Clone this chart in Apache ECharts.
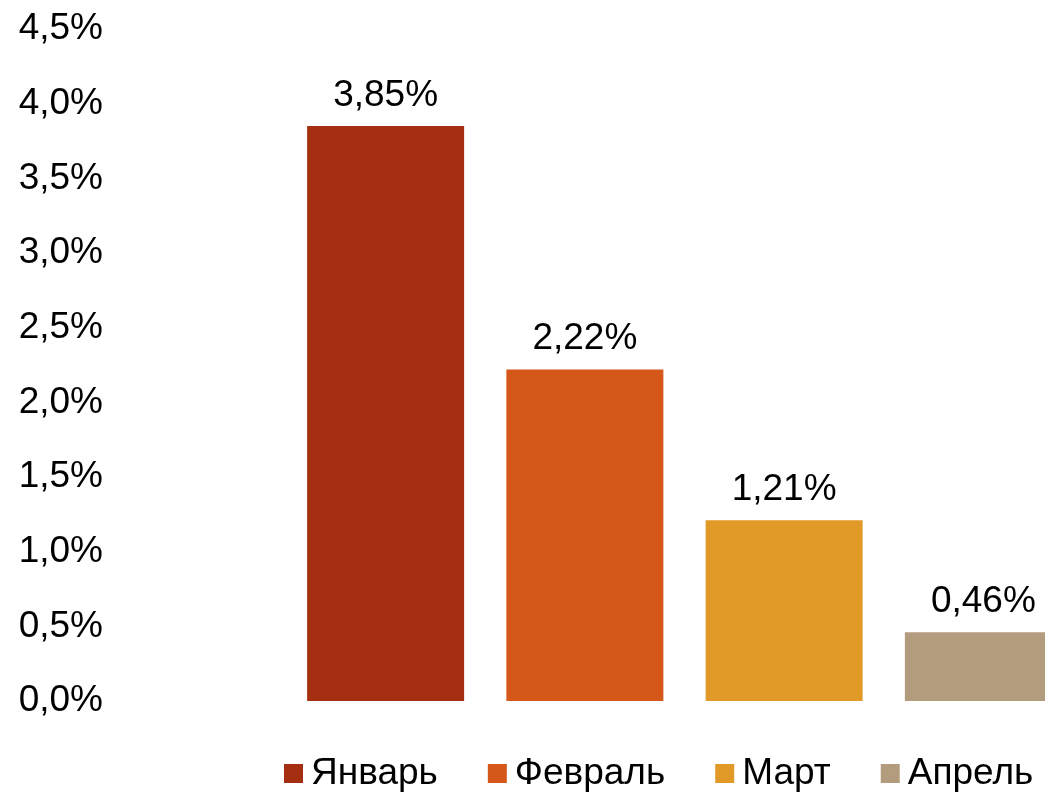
<!DOCTYPE html>
<html>
<head>
<meta charset="utf-8">
<script src="https://cdn.jsdelivr.net/npm/echarts@6/dist/echarts.min.js"></script>
<style>
  html, body { margin: 0; padding: 0; background: #fff; }
  #chart { width: 1045px; height: 793px; }
</style>
</head>
<body>
<div id="chart"></div>
<script>
// месяцы и значения
var months = ['Январь', 'Февраль', 'Март', 'Апрель']
var values = [3.85, 2.22, 1.21, 0.46]
var colors = ['#A52F10', '#D5581A', '#E19A28', '#B39C7E']

// ось Y
var yMin = 0, yMax = 4.5, yStep = 0.5

function pct(v, digits) {
  return v.toFixed(digits).replace('.', ',') + '%'
}

// по серии на каждый месяц, чтобы была легенда
var series = months.map(function (name, i) {
  var d = months.map(function (m, j) { return j === i ? values[i] : '-' })
  return {
    name: name,
    type: 'bar',
    stack: 'all',
    barWidth: 157,
    data: d,
    itemStyle: { color: colors[i] },
    label: {
      show: true,
      position: 'top',
      distance: 12,
      color: '#000',
      fontSize: 37,
      fontFamily: 'Liberation Sans',
      formatter: function (p) { return pct(p.value, 2) }
    }
  }
})

var chart = echarts.init(document.getElementById('chart'))
chart.setOption({
  animation: false,
  color: colors,
  // правый край графика уходит за пределы картинки
  grid: { left: 286, width: 797, top: 29, bottom: 92, containLabel: false, outerBoundsMode: 'none' },
  legend: {
    left: 284,
    top: 755,
    padding: 0,
    itemWidth: 19,
    itemHeight: 19,
    itemGap: 50,
    icon: 'rect',
    textStyle: { color: '#000', fontSize: 37, fontFamily: 'Liberation Sans', padding: [0, 0, 0, 3] },
    data: months
  },
  xAxis: {
    type: 'category',
    data: months,
    axisLine: { show: false },
    axisTick: { show: false },
    axisLabel: { show: false }
  },
  yAxis: {
    type: 'value',
    min: yMin,
    max: yMax,
    interval: yStep,
    axisLine: { show: false },
    axisTick: { show: false },
    splitLine: { show: false },
    axisLabel: {
      margin: 183,
      color: '#000',
      fontSize: 37,
      fontFamily: 'Liberation Sans',
      padding: [8, 0, 0, 0],
      formatter: function (v) { return pct(v, 1) }
    }
  },
  series: series
})
</script>
</body>
</html>
